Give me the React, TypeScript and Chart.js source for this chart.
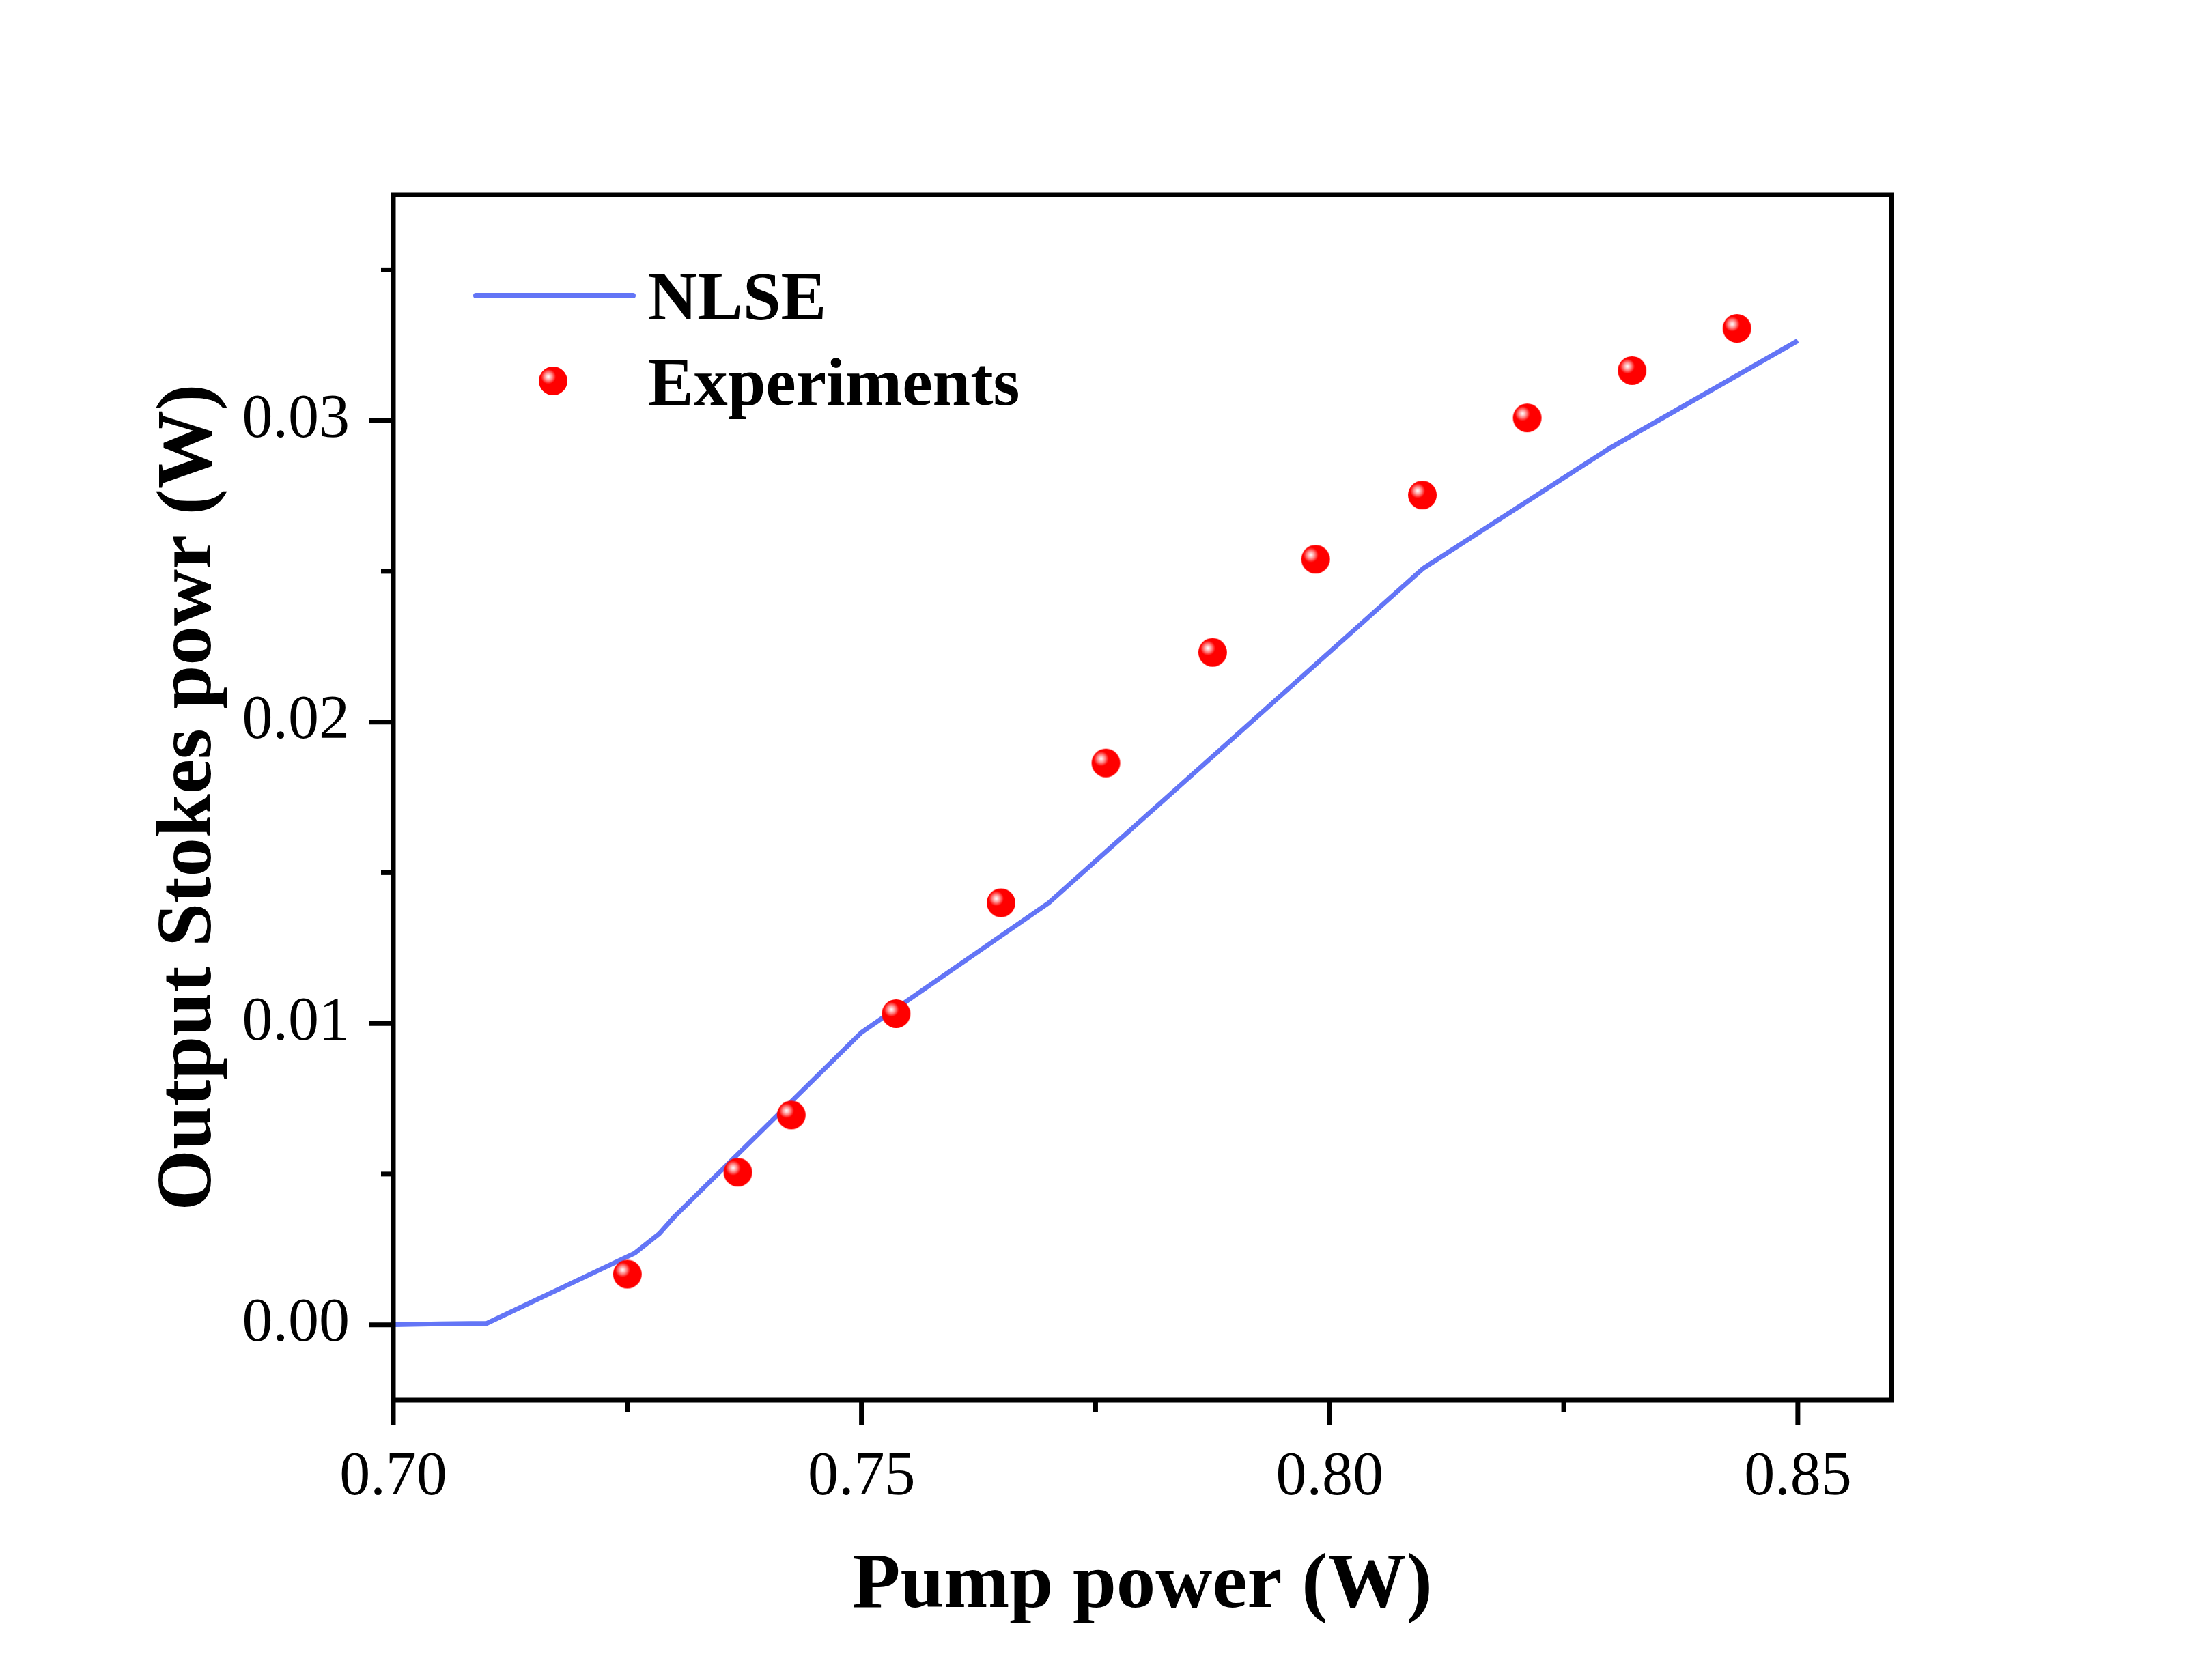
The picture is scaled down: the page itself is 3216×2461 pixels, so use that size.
import { useEffect, useRef } from 'react';
import { Chart, registerables } from 'chart.js';

Chart.register(...registerables);

// NLSE simulation curve
const nlsePump = [0.70, 0.705, 0.71, 0.7258, 0.7284, 0.730, 0.75, 0.77, 0.81, 0.83, 0.85];
const nlseStokes = [0, 0.00003, 0.00005, 0.00238, 0.00302, 0.00358, 0.0097, 0.0140, 0.0251, 0.0291, 0.03265];

// measured points
const expPump = [0.725, 0.7368, 0.7425, 0.7537, 0.7649, 0.7761, 0.7875, 0.7985, 0.8099, 0.8211, 0.8323, 0.8435];
const expStokes = [0.00168, 0.00506, 0.00696, 0.01032, 0.0140, 0.01864, 0.02231, 0.0254, 0.02753, 0.03009, 0.03166, 0.03306];

// tick positions (major ones get labels)
const xTicks = [0.70, 0.725, 0.75, 0.775, 0.80, 0.825, 0.85];
const yTicks = [0, 0.005, 0.01, 0.015, 0.02, 0.025, 0.03, 0.035];

const SERIF = "'Liberation Serif', 'Times New Roman', serif";
const LINE_BLUE = '#6375F6';
const BALL_R = 21;

const isMultiple = (v: number, step: number) => Math.abs(v / step - Math.round(v / step)) < 1e-6;

function makeBall(r: number) {
    const c = document.createElement('canvas');
    const size = r * 2 + 2;
    c.width = size;
    c.height = size;
    const g = c.getContext('2d')!;
    const cx = size / 2, cy = size / 2;
    const hx = cx - r * 0.33, hy = cy - r * 0.3;
    const grad = g.createRadialGradient(hx, hy, 0, hx, hy, r * 0.52);
    grad.addColorStop(0, '#ffffff');
    grad.addColorStop(0.2, '#ffd6d6');
    grad.addColorStop(0.55, '#ff8282');
    grad.addColorStop(1, '#ff0000');
    g.fillStyle = grad;
    g.beginPath();
    g.arc(cx, cy, r, 0, Math.PI * 2);
    g.fill();
    return c;
}

export default function App() {
    const canvasRef = useRef<HTMLCanvasElement>(null);

    useEffect(() => {
        document.body.style.margin = '0';
        if (!canvasRef.current) return;
        const ball = makeBall(BALL_R);

        const framePlugin = {
            id: 'frameAndTicks',
            afterDraw(chart: any) {
                const { ctx, chartArea: a } = chart;
                ctx.save();
                ctx.strokeStyle = '#000';
                ctx.lineWidth = 7;
                ctx.lineCap = 'butt';
                // outward ticks on bottom and left
                const xs = chart.scales.x;
                xs.ticks.forEach((t: any) => {
                    const px = xs.getPixelForValue(t.value);
                    const len = isMultiple(t.value, 0.05) ? 36 : 18;
                    ctx.beginPath();
                    ctx.moveTo(px, a.bottom);
                    ctx.lineTo(px, a.bottom + len);
                    ctx.stroke();
                });
                const ys = chart.scales.y;
                ys.ticks.forEach((t: any) => {
                    const py = ys.getPixelForValue(t.value);
                    const len = isMultiple(t.value, 0.01) ? 36 : 18;
                    ctx.beginPath();
                    ctx.moveTo(a.left, py);
                    ctx.lineTo(a.left - len, py);
                    ctx.stroke();
                });
                ctx.strokeRect(a.left, a.top, a.right - a.left, a.bottom - a.top);

                // legend
                ctx.strokeStyle = LINE_BLUE;
                ctx.lineWidth = 8;
                ctx.lineCap = 'round';
                ctx.beginPath();
                ctx.moveTo(a.left + 121, a.top + 148);
                ctx.lineTo(a.left + 351, a.top + 148);
                ctx.stroke();
                ctx.drawImage(ball, a.left + 234 - ball.width / 2, a.top + 273 - ball.height / 2);
                ctx.fillStyle = '#000';
                ctx.font = `bold 100px ${SERIF}`;
                ctx.textAlign = 'left';
                ctx.textBaseline = 'alphabetic';
                ctx.fillText('NLSE', a.left + 373, a.top + 182);
                ctx.fillText('Experiments', a.left + 373, a.top + 308);
                ctx.restore();
            }
        };

        const chart = new Chart(canvasRef.current, {
            type: 'line',
            data: {
                datasets: [
                    {
                        label: 'NLSE',
                        data: nlsePump.map((x, i) => ({ x, y: nlseStokes[i] })),
                        borderColor: LINE_BLUE,
                        borderWidth: 7,
                        pointRadius: 0,
                        tension: 0,
                        fill: false,
                        order: 2
                    },
                    {
                        label: 'Experiments',
                        data: expPump.map((x, i) => ({ x, y: expStokes[i] })),
                        showLine: false,
                        pointStyle: ball,
                        pointRadius: BALL_R,
                        order: 1
                    }
                ]
            },
            options: {
                responsive: true,
                maintainAspectRatio: false,
                animation: false,
                layout: { padding: { top: 285, right: 446, bottom: 0, left: 0 } },
                plugins: {
                    legend: { display: false },
                    tooltip: { enabled: false }
                },
                scales: {
                    x: {
                        type: 'linear',
                        position: 'bottom',
                        min: 0.70,
                        max: 0.86,
                        grid: { display: false },
                        border: { display: false },
                        afterBuildTicks: (s: any) => { s.ticks = xTicks.map(v => ({ value: v })); },
                        afterFit: (s: any) => { s.height = 410; },
                        ticks: {
                            autoSkip: false,
                            maxRotation: 0,
                            padding: 52,
                            color: '#000',
                            font: { family: SERIF, size: 90 },
                            callback: (v: any) => isMultiple(Number(v), 0.05) ? Number(v).toFixed(2) : ''
                        },
                        title: {
                            display: true,
                            text: 'Pump power (W)',
                            color: '#000',
                            font: { family: SERIF, size: 115, weight: 'bold' },
                            padding: { top: 0, bottom: 68 }
                        }
                    },
                    y: {
                        type: 'linear',
                        min: -0.0025,
                        max: 0.0375,
                        grid: { display: false },
                        border: { display: false },
                        afterBuildTicks: (s: any) => { s.ticks = yTicks.map(v => ({ value: v })); },
                        afterFit: (s: any) => { s.width = 576; },
                        ticks: {
                            autoSkip: false,
                            padding: 56,
                            color: '#000',
                            font: { family: SERIF, size: 90 },
                            callback: (v: any) => isMultiple(Number(v), 0.01) ? Number(v).toFixed(2) : ''
                        },
                        title: {
                            display: true,
                            text: 'Output Stokes powr (W)',
                            color: '#000',
                            font: { family: SERIF, size: 115, weight: 'bold' },
                            padding: { top: 209, bottom: 0 }
                        }
                    }
                }
            },
            plugins: [framePlugin]
        });

        return () => chart.destroy();
    }, []);

    return (
        <div style={{ position: 'absolute', left: 0, top: 0, width: 3216, height: 2461 }}>
            <canvas ref={canvasRef} />
        </div>
    );
}
